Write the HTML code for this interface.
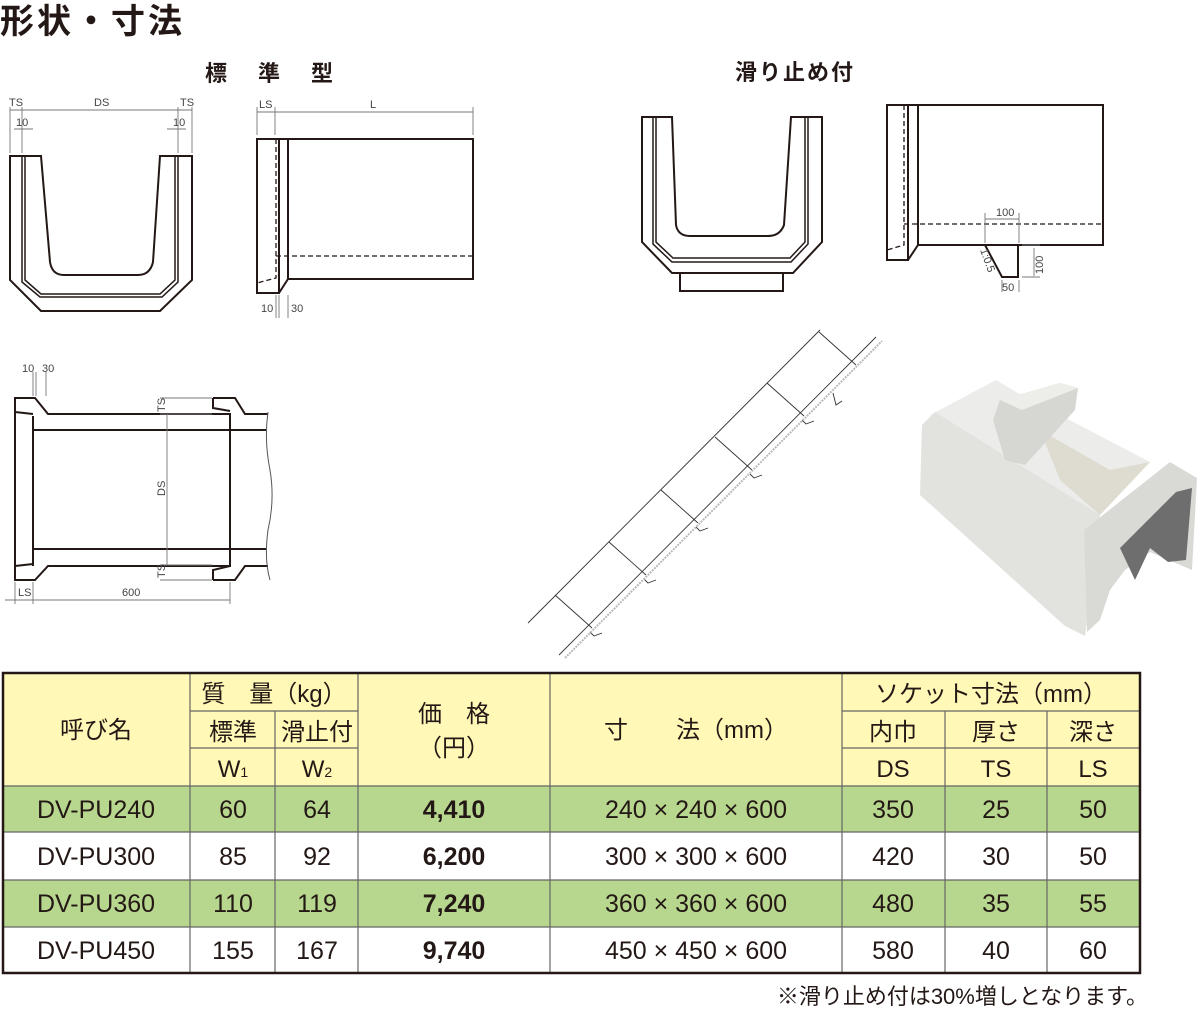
<!DOCTYPE html>
<html><head><meta charset="utf-8"><style>
body{margin:0;background:#fff;}
svg{display:block;}
.j{font-family:"Liberation Sans","Noto Sans CJK JP",sans-serif;}
</style></head><body>
<svg width="1200" height="1010" viewBox="0 0 1200 1010" xmlns="http://www.w3.org/2000/svg" class="j">
<text x="0" y="33" font-size="34" fill="#231815" font-weight="bold" class="j" letter-spacing="3">形状・寸法</text>
<text x="205" y="81" font-size="22" fill="#231815" font-weight="bold" class="j" letter-spacing="31">標準型</text>
<text x="735" y="80" font-size="22" fill="#231815" font-weight="bold" class="j" letter-spacing="2">滑り止め付</text>

<g fill="none" stroke="#231815" stroke-width="2">
<path d="M10,156 V280 L41,311 H160 L192,280 V156 H160 L153,262 Q150,275 138,275 H64 Q52,275 50,262 L41,156 Z"/>
<path d="M22,156 V282 L40,297 H162 L178,282 V156" stroke-width="1.5"/>
<path d="M25,156 V280 L41,294 H160 L175,280 V156" stroke-width="1.5"/>
<rect x="257" y="139" width="22" height="154"/>
<path d="M279,139 H288 V279 H473 V139 H288"/>
<path d="M279,293 L288,279"/>
<path d="M642,117 V242 L672,273 H793 L822,242 V117 H791 L784,225 Q780,236 768,236 H690 Q678,236 676,225 L672,117 Z"/>
<path d="M653,117 V244 L672,262 H791 L808,244 V117" stroke-width="1.5"/>
<path d="M656,117 V242 L673,258 H790 L805,242 V117" stroke-width="1.5"/>
<rect x="680" y="273" width="103" height="18"/>
<rect x="887" y="105" width="21" height="155"/>
<path d="M908,105 H918 V245 H1103 V105 H918"/>
<path d="M908,260 L918,245"/>
<path d="M985,245 L1002,277 H1018 V245"/>
<path d="M33,416 V566 M15,398 H35 L48,414 H230 V566 H48 L35,580 H15 Z"/>
<path d="M33,430 H266 M33,549 H266 M15,412 L33,414 M15,566 L33,564"/>
<path d="M213,398 H235 L245,414 H268 M213,398 V408 L230,411 M213,580 H235 L245,566 H268 M213,580 V570 L230,566"/>
</g>
<path d="M268,412 Q264,440 270,470 Q275,500 268,530 Q264,560 270,580" fill="none" stroke="#555" stroke-width="1"/>
<g fill="none" stroke="#231815" stroke-width="1.3" stroke-dasharray="5,3">
<path d="M276,139 V278 L257,283 M276,256 H473"/>
<path d="M904,105 V245 L887,250 M904,224 H1103"/>
</g>
<g fill="none" stroke="#777" stroke-width="0.9">
<path d="M10,107 V153 M22,107 V153 M178,107 V153 M192,107 V153 M10,110 H192 M14,129 H33 M167,129 H186"/>
<path d="M257,107 V135 M275,107 V135 M473,107 V135 M257,112 H473 M276,295 V318 M279,295 V318 M288,295 V318"/>
<path d="M985,213 V243 M1019,213 V243 M985,219 H1019 M1022,245 H1040 M1022,277 H1040 M1034,248 V276 M1002,280 V292 M1019,280 V292"/>
<path d="M160,398 H212 M160,414 H212 M160,565 H212 M160,580 H212 M167,414 V565 M15,582 V604 M33,582 V604 M230,582 V604 M5,600 H230 M33,372 V396 M36,372 V396 M46,372 V396"/>
</g>
<g font-size="11" fill="#444" font-family="Liberation Sans,sans-serif">
<text x="9" y="106">TS</text><text x="94" y="106">DS</text><text x="180" y="106">TS</text>
<text x="16" y="126">10</text><text x="173" y="126">10</text>
<text x="259" y="108">LS</text><text x="370" y="108">L</text>
<text x="261" y="312">10</text><text x="291" y="312">30</text>
<text x="996" y="216">100</text><text x="1002" y="291">50</text>
<text transform="translate(1043,274) rotate(-90)">100</text>
<text transform="translate(980,250) rotate(70)">1:0.5</text>
<text x="22" y="372">10</text><text x="42" y="372">30</text>
<text x="18" y="596">LS</text><text x="122" y="596">600</text>
<text transform="translate(165,412) rotate(-90)">TS</text>
<text transform="translate(165,496) rotate(-90)">DS</text>
<text transform="translate(165,578) rotate(-90)">TS</text>
</g>
<g fill="none" stroke="#333" stroke-width="0.9">
<path d="M528,623 L820,330 M559,655 L876,337"/>
<path d="M555,595 L592,628 M609,542 L646,575 M661,490 L698,523 M715,437 L752,470 M767,383 L804,416 M819,332 L856,365"/>
<path d="M590,632 l4,4 l8,-3 M644,579 l4,4 l8,-3 M696,527 l4,4 l8,-3 M750,474 l4,4 l8,-3 M802,420 l4,4 l8,-3 M833,393 l3,12 l6,-4"/>
</g>
<path d="M565,658 L882,341" fill="none" stroke="#bbb" stroke-width="2" stroke-dasharray="2,1"/>
<!-- photo -->
<polygon points="930,415 996,380 1016,392 1150,462 1100,515" fill="#ececea"/>
<polygon points="922,425 935,412 1100,515 1085,636 1065,626 920,495" fill="#e2e2de"/>
<polygon points="1040,430 1110,470 1150,462 1100,515 1060,480" fill="#dedbd0"/>
<polygon points="993,420 1000,400 1060,383 1078,388 1075,410 1025,465 1005,460" fill="#d6d6d2"/>
<polygon points="1000,400 1060,383 1078,388 1022,410" fill="#ededea"/>
<polygon points="1084,530 1170,462 1197,478 1192,570 1150,552 1125,570 1110,590 1100,620 1087,632" fill="#d9d9d6"/>
<polygon points="1120,548 1176,492 1192,488 1186,560 1168,562 1150,548 1135,580" fill="#6e6e6e"/>
<!-- table -->
<g stroke="none">
<rect x="3" y="673" width="1137" height="113" fill="#fff8b6"/>
<rect x="3" y="786" width="1137" height="46" fill="#b8d78e"/>
<rect x="3" y="880" width="1137" height="47" fill="#b8d78e"/>
</g>
<g stroke="#666" stroke-width="1.2" fill="none">
<path d="M190,673 V973 M275,711 V973 M358,673 V973 M550,673 V973 M842,673 V973 M945,711 V973 M1047,711 V973"/>
<path d="M190,711 H358 M842,711 H1140 M190,748 H358 M842,748 H1140 M3,786 H1140 M3,832 H1140 M3,880 H1140 M3,927 H1140"/>
</g>
<rect x="3" y="673" width="1137" height="300" fill="none" stroke="#231815" stroke-width="2.5"/>
<g font-size="24" fill="#231815" text-anchor="middle" class="j">
<text x="96" y="738">呼び名</text>
<text x="274" y="702">質　量（kg）</text>
<text x="233" y="740">標準</text><text x="317" y="740">滑止付</text>
<text x="233" y="777">W<tspan font-size="14">1</tspan></text><text x="317" y="777">W<tspan font-size="14">2</tspan></text>
<text x="454" y="722">価　格</text><text x="454" y="756">（円）</text>
<text x="696" y="738">寸　　法（mm）</text>
<text x="991" y="702">ソケット寸法（mm）</text>
<text x="893" y="740">内巾</text><text x="996" y="740">厚さ</text><text x="1093" y="740">深さ</text>
<text x="893" y="777">DS</text><text x="996" y="777">TS</text><text x="1093" y="777">LS</text>
</g>
<g font-size="25" fill="#231815" text-anchor="middle" class="j">
<text x="96" y="818">DV-PU240</text><text x="233" y="818">60</text><text x="317" y="818">64</text><text x="454" y="818" font-weight="bold">4,410</text><text x="696" y="818">240 ×  240 ×  600</text><text x="893" y="818">350</text><text x="996" y="818">25</text><text x="1093" y="818">50</text>
<text x="96" y="865">DV-PU300</text><text x="233" y="865">85</text><text x="317" y="865">92</text><text x="454" y="865" font-weight="bold">6,200</text><text x="696" y="865">300 ×  300 ×  600</text><text x="893" y="865">420</text><text x="996" y="865">30</text><text x="1093" y="865">50</text>
<text x="96" y="912">DV-PU360</text><text x="233" y="912">110</text><text x="317" y="912">119</text><text x="454" y="912" font-weight="bold">7,240</text><text x="696" y="912">360 ×  360 ×  600</text><text x="893" y="912">480</text><text x="996" y="912">35</text><text x="1093" y="912">55</text>
<text x="96" y="959">DV-PU450</text><text x="233" y="959">155</text><text x="317" y="959">167</text><text x="454" y="959" font-weight="bold">9,740</text><text x="696" y="959">450 ×  450 ×  600</text><text x="893" y="959">580</text><text x="996" y="959">40</text><text x="1093" y="959">60</text>
</g>
<text x="1148" y="1004" font-size="22" fill="#231815" text-anchor="end" class="j">※滑り止め付は30%増しとなります。</text>
</svg>
</body></html>
